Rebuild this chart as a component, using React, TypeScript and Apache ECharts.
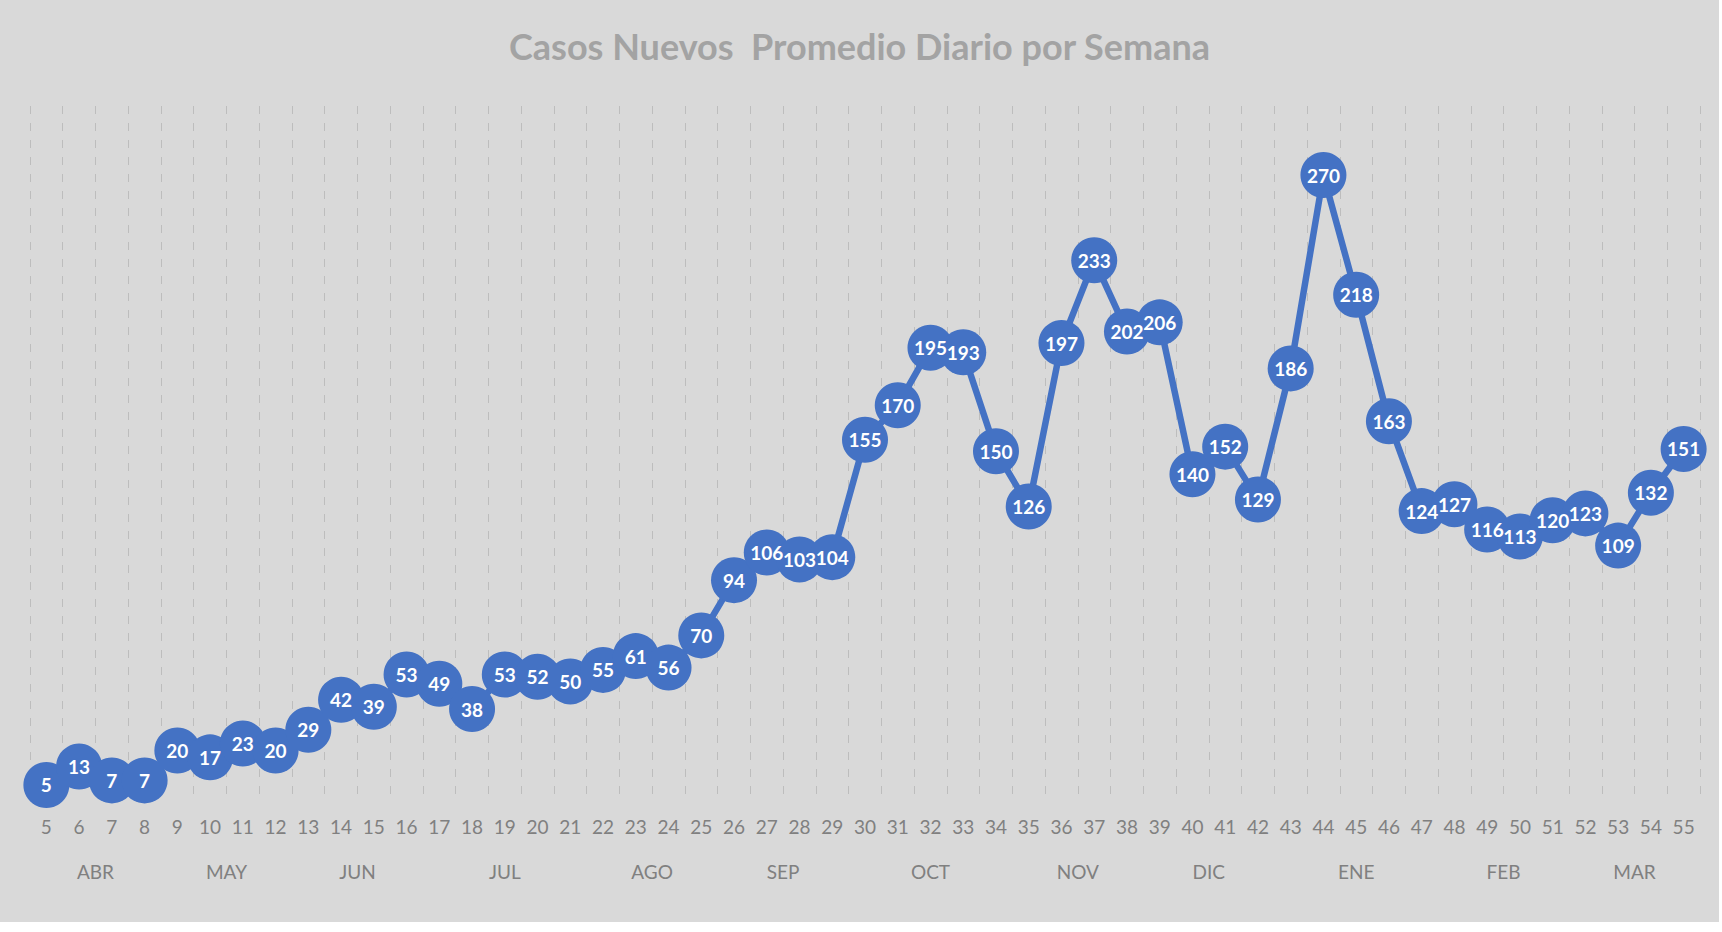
import React, { useEffect, useRef } from "react";
import * as echarts from "echarts";

const weeks = [
  "5", "6", "7", "8", "9", "10", "11", "12", "13", "14", "15", "16", "17", "18", "19", "20", "21",
  "22", "23", "24", "25", "26", "27", "28", "29", "30", "31", "32", "33", "34", "35", "36", "37",
  "38", "39", "40", "41", "42", "43", "44", "45", "46", "47", "48", "49", "50", "51", "52", "53",
  "54", "55",
];

const newCases = [
  5, 13, 7, 7, 20, 17, 23, 20, 29, 42, 39, 53, 49, 38, 53, 52, 50, 55, 61, 56, 70, 94, 106, 103,
  104, 155, 170, 195, 193, 150, 126, 197, 233, 202, 206, 140, 152, 129, 186, 270, 218, 163, 124,
  127, 116, 113, 120, 123, 109, 132, 151,
];

const months = ["ABR", "MAY", "JUN", "JUL", "AGO", "SEP", "OCT", "NOV", "DIC", "ENE", "FEB", "MAR"];
const monthWeekCounts = [4, 4, 4, 5, 4, 4, 5, 4, 4, 5, 4, 4];

const title = "Casos Nuevos  Promedio Diario por Semana";

function buildMonthAxis(): string[] {
  const slots = new Array(weeks.length * 2 + 1).fill("");
  let start = 0;
  months.forEach((m, i) => {
    const n = monthWeekCounts[i];
    slots[2 * start + n] = m;
    start += n;
  });
  return slots;
}

export default function App() {
  const ref = useRef<HTMLDivElement>(null);

  useEffect(() => {
    if (!ref.current) return;
    const chart = echarts.init(ref.current, undefined, { renderer: "svg" });
    const blue = "#4472C4";
    const grey = "#808080";
    chart.setOption({
      animation: false,
      backgroundColor: "#d9d9d9",
      title: {
        text: title,
        left: "center",
        top: 23,
        textStyle: {
          fontFamily: "Lato",
          fontWeight: "bold",
          fontSize: 36,
          color: "#a3a3a3",
        },
      },
      grid: { left: 30, right: 19, top: 106, bottom: 125.5 },
      xAxis: [
        {
          type: "category",
          data: weeks,
          boundaryGap: true,
          axisLine: { show: false },
          axisTick: { show: false },
          splitLine: {
            show: true,
            lineStyle: { color: "#bdbdbd", width: 1, type: [8, 9] },
          },
          axisLabel: {
            interval: 0,
            margin: 20,
            color: grey,
            fontFamily: "Lato",
            fontSize: 19,
          },
        },
        {
          type: "category",
          data: buildMonthAxis(),
          boundaryGap: false,
          position: "bottom",
          offset: 45,
          axisLine: { show: false },
          axisTick: { show: false },
          splitLine: { show: false },
          axisLabel: {
            interval: 0,
            margin: 20,
            color: grey,
            fontFamily: "Lato",
            fontSize: 19,
          },
        },
      ],
      yAxis: {
        type: "value",
        min: 0,
        max: 300,
        show: false,
        splitLine: { show: false },
      },
      series: [
        {
          type: "line",
          xAxisIndex: 0,
          data: newCases,
          clip: false,
          symbol: "circle",
          symbolSize: 46,
          lineStyle: { color: blue, width: 6.5 },
          itemStyle: { color: blue },
          label: {
            show: true,
            position: "inside",
            color: "#ffffff",
            fontFamily: "Lato",
            fontWeight: "bold",
            fontSize: 19,
          },
        },
      ],
    });
    return () => chart.dispose();
  }, []);

  return (
    <div
      style={{
        position: "fixed",
        left: 0,
        top: 0,
        width: 1722,
        height: 932,
        background: "#ffffff",
      }}
    >
      <div ref={ref} style={{ width: 1719, height: 922 }} />
    </div>
  );
}
